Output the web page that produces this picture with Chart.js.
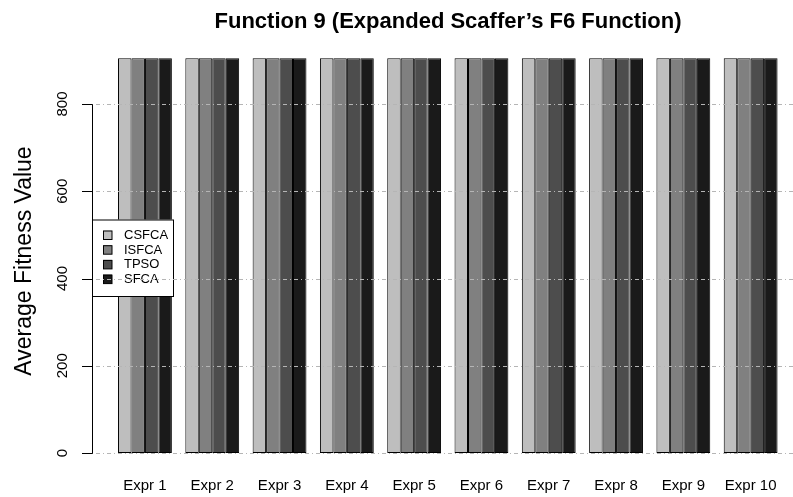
<!DOCTYPE html>
<html>
<head>
<meta charset="utf-8">
<script src="https://cdn.jsdelivr.net/npm/chart.js@4/dist/chart.umd.min.js"></script>
<style>
  html, body { margin: 0; padding: 0; background: #fff; }
  #wrap { width: 793px; height: 497px; position: relative; }
</style>
</head>
<body>
<div id="wrap"><canvas id="c"></canvas></div>
<script>
// data
const categories = ['Expr 1', 'Expr 2', 'Expr 3', 'Expr 4', 'Expr 5', 'Expr 6', 'Expr 7', 'Expr 8', 'Expr 9', 'Expr 10'];
const seriesNames = ['CSFCA', 'ISFCA', 'TPSO', 'SFCA'];
const csfca = [905, 905, 905, 905, 905, 905, 905, 905, 905, 905];
const isfca = [905, 905, 905, 905, 905, 905, 905, 905, 905, 905];
const tpso  = [905, 905, 905, 905, 905, 905, 905, 905, 905, 905];
const sfca  = [905, 905, 905, 905, 905, 905, 905, 905, 905, 905];
const yTicks = [0, 200, 400, 600, 800];

const fills = ['#bebebe', '#808080', '#4d4d4d', '#1a1a1a'];
const FONT = '"Liberation Sans", Arial, Helvetica, sans-serif';

// R-style axes, legend, grid and title drawn with the chart's scales
const rDecor = {
    id: 'rDecor',
    afterDatasetsDraw(chart) {
        const ctx = chart.ctx;
        const x = chart.scales.x, y = chart.scales.y;
        ctx.save();

        // legend box (sits on top of the bars)
        const lx = 92, ly = 219.5, lw = 81, lh = 76.5;
        ctx.fillStyle = '#fff';
        ctx.fillRect(lx, ly, lw, lh);
        ctx.strokeStyle = '#000';
        ctx.lineWidth = 1;
        ctx.strokeRect(lx + 0.5, ly + 0.5, lw, lh);
        ctx.font = '13px ' + FONT;
        ctx.textBaseline = 'middle';
        ctx.textAlign = 'left';
        seriesNames.forEach((name, i) => {
            const ry = 235 + i * 14.7;
            ctx.fillStyle = fills[i];
            ctx.fillRect(103, ry - 4.5, 9, 9);
            ctx.strokeStyle = '#000';
            ctx.strokeRect(103.5, ry - 4, 8.5, 8.5);
            ctx.fillStyle = '#000';
            ctx.fillText(name, 124, ry + 0.5);
        });

        // dot-dash grid lines over everything
        ctx.strokeStyle = '#b5b5b5';
        ctx.lineWidth = 1;
        ctx.setLineDash([1, 3, 4, 3]);
        yTicks.forEach(v => {
            const py = Math.round(y.getPixelForValue(v)) + 0.5;
            ctx.beginPath();
            ctx.moveTo(92, py);
            ctx.lineTo(793, py);
            ctx.stroke();
        });
        ctx.setLineDash([]);

        // y axis line + ticks
        const ax = 92.5;
        ctx.strokeStyle = '#000';
        ctx.beginPath();
        ctx.moveTo(ax, Math.round(y.getPixelForValue(0)) + 0.5);
        ctx.lineTo(ax, Math.round(y.getPixelForValue(800)) + 0.5);
        yTicks.forEach(v => {
            const py = Math.round(y.getPixelForValue(v)) + 0.5;
            ctx.moveTo(ax, py);
            ctx.lineTo(82, py);
        });
        ctx.stroke();

        // rotated tick labels
        ctx.fillStyle = '#000';
        ctx.font = '15px ' + FONT;
        ctx.textAlign = 'center';
        ctx.textBaseline = 'middle';
        yTicks.forEach(v => {
            ctx.save();
            ctx.translate(63, y.getPixelForValue(v));
            ctx.rotate(-Math.PI / 2);
            ctx.fillText(String(v), 0, 0);
            ctx.restore();
        });

        // category labels
        categories.forEach((c, i) => {
            ctx.fillText(c, x.getPixelForValue(i), 486);
        });

        // y title
        ctx.save();
        ctx.font = '23px ' + FONT;
        ctx.translate(25, 261);
        ctx.rotate(-Math.PI / 2);
        ctx.fillText('Average Fitness Value', 0, 0);
        ctx.restore();

        // main title
        ctx.font = 'bold 22px ' + FONT;
        ctx.fillText('Function 9 (Expanded Scaffer\u2019s F6 Function)', 448, 22);

        ctx.restore();
    }
};

const seriesData = [csfca, isfca, tpso, sfca];

new Chart(document.getElementById('c'), {
    type: 'bar',
    data: {
        labels: categories,
        datasets: seriesNames.map((name, i) => ({
            label: name,
            data: seriesData[i],
            backgroundColor: fills[i],
            borderColor: '#000',
            borderWidth: 1,
            borderSkipped: false,
            barPercentage: 1.0,
            categoryPercentage: 0.8
        }))
    },
    options: {
        responsive: true,
        maintainAspectRatio: false,
        animation: false,
        layout: { padding: { left: 111.3, right: 8.7, top: 16.75, bottom: 44 } },
        scales: {
            x: { display: false },
            y: { display: false, min: 0, max: 1000 }
        },
        plugins: {
            legend: { display: false },
            title: { display: false },
            tooltip: { enabled: false }
        }
    },
    plugins: [rDecor]
});
</script>
</body>
</html>
